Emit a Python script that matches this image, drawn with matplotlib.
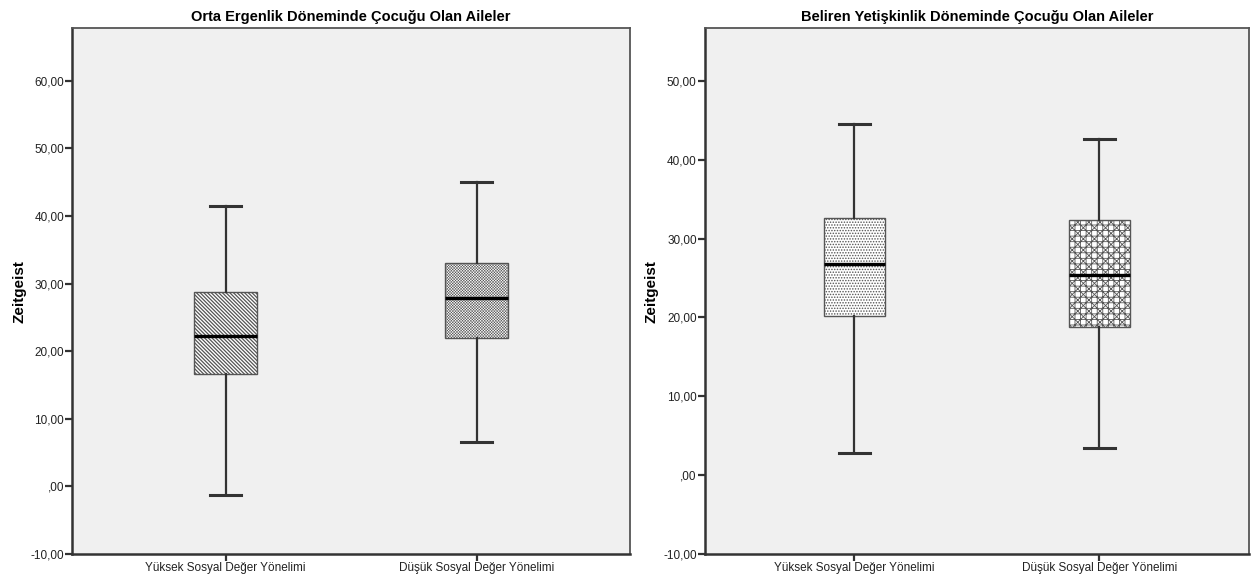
import matplotlib
matplotlib.use("Agg")
import matplotlib.pyplot as plt
from matplotlib.ticker import FuncFormatter, MultipleLocator

plt.rcParams['font.family'] = ['Liberation Sans Narrow', 'Liberation Sans', 'DejaVu Sans']
plt.rcParams['hatch.linewidth'] = 0.7

# group labels (same for both panels)
groups = ['Yüksek Sosyal Değer Yönelimi', 'Düşük Sosyal Değer Yönelimi']

# left panel: Orta Ergenlik
left_title = 'Orta Ergenlik Döneminde Çocuğu Olan Aileler'
left_whislo = [-1.3, 6.5]
left_q1 = [16.6, 21.9]
left_med = [22.3, 27.9]
left_q3 = [28.7, 33.0]
left_whishi = [41.5, 45.0]

# right panel: Beliren Yetişkinlik
right_title = 'Beliren Yetişkinlik Döneminde Çocuğu Olan Aileler'
right_whislo = [2.8, 3.5]
right_q1 = [20.2, 18.8]
right_med = [26.8, 25.4]
right_q3 = [32.6, 32.3]
right_whishi = [44.5, 42.6]


def fmt(v, pos):
    s = f"{v:.2f}".replace('.', ',')
    if s.startswith('0,'):
        s = s[1:]
    return s


def draw_panel(ax, title, lo, q1, med, q3, hi, hatches, hatch_lw, ytop):
    stats = []
    for i in range(len(groups)):
        stats.append(dict(label=groups[i], whislo=lo[i], q1=q1[i], med=med[i],
                          q3=q3[i], whishi=hi[i], fliers=[]))
    bp = ax.bxp(stats, positions=[1, 2], widths=0.25, patch_artist=True,
                showfliers=False, capwidths=0.125,
                boxprops=dict(linewidth=1.0, edgecolor='#555555', facecolor='white'),
                medianprops=dict(color='black', linewidth=2.4),
                whiskerprops=dict(color='#333333', linewidth=1.6),
                capprops=dict(color='#333333', linewidth=2.2))
    for patch, h, lw in zip(bp['boxes'], hatches, hatch_lw):
        patch.set_hatch(h)
        if hasattr(patch, 'set_hatch_linewidth'):
            patch.set_hatch_linewidth(lw)

    ax.set_facecolor('#f0f0f0')
    ax.set_xlim(0.39, 2.61)
    ax.set_ylim(-10, ytop)
    ax.yaxis.set_major_locator(MultipleLocator(10))
    ax.yaxis.set_major_formatter(FuncFormatter(fmt))
    for sp in ax.spines.values():
        sp.set_color('#555555')
        sp.set_linewidth(1.3)
    ax.spines['left'].set_color('#333333')
    ax.spines['bottom'].set_color('#333333')
    ax.spines['left'].set_linewidth(1.8)
    ax.spines['bottom'].set_linewidth(1.8)
    ax.tick_params(axis='both', direction='out', length=5, width=1.6,
                   color='#333333', labelsize=8.5, labelcolor='#222222', pad=1)
    ax.set_title(title, fontsize=10.5, fontweight='bold', pad=5)
    ax.set_ylabel('Zeitgeist', fontsize=11, fontweight='bold',
                  family=['Liberation Sans', 'DejaVu Sans'], labelpad=3)


fig = plt.figure(figsize=(12.56, 5.85), dpi=100)
ax1 = fig.add_axes([0.0576, 0.053, 0.4440, 0.8986])
ax2 = fig.add_axes([0.5613, 0.053, 0.4331, 0.8986])

draw_panel(ax1, left_title, left_whislo, left_q1, left_med, left_q3, left_whishi,
           ['\\' * 9, 'x' * 12], [0.9, 0.35], 67.74)
draw_panel(ax2, right_title, right_whislo, right_q1, right_med, right_q3, right_whishi,
           ['.' * 6, 'xxx+++'], [0.7, 0.6], 56.66)

fig.savefig('out.png', dpi=100)
